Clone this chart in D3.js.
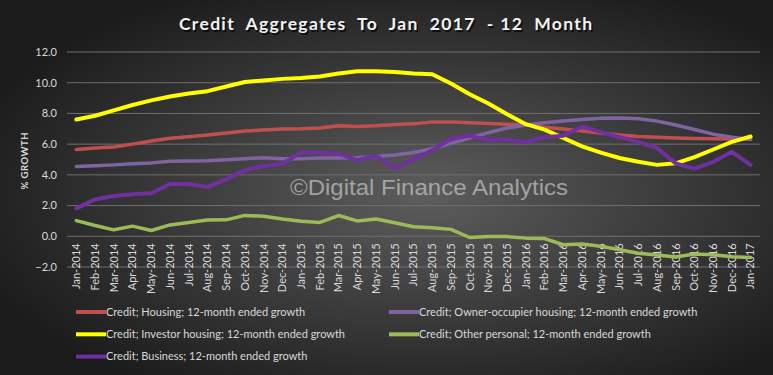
<!DOCTYPE html>
<html>
<head>
<meta charset="utf-8">
<script src="https://cdn.jsdelivr.net/npm/d3@7"></script>
<style>
  body { margin: 0; background: #222; }
  svg { display: block; }
  .tick-label { font-family: Lato, "Open Sans", sans-serif; font-size: 11px; fill: #d9d9d9; }
  .legend-label { font-family: Lato, "Open Sans", sans-serif; font-size: 11px; fill: #d9d9d9; }
</style>
</head>
<body>
<svg id="chart" width="773" height="375"></svg>
<script>
"use strict";

// months on the category axis
var months = [
  "Jan-2014", "Feb-2014", "Mar-2014", "Apr-2014", "May-2014", "Jun-2014",
  "Jul-2014", "Aug-2014", "Sep-2014", "Oct-2014", "Nov-2014", "Dec-2014",
  "Jan-2015", "Feb-2015", "Mar-2015", "Apr-2015", "May-2015", "Jun-2015",
  "Jul-2015", "Aug-2015", "Sep-2015", "Oct-2015", "Nov-2015", "Dec-2015",
  "Jan-2016", "Feb-2016", "Mar-2016", "Apr-2016", "May-2016", "Jun-2016",
  "Jul-2016", "Aug-2016", "Sep-2016", "Oct-2016", "Nov-2016", "Dec-2016",
  "Jan-2017"
];

var yTicks = [-2, 0, 2, 4, 6, 8, 10, 12];

// series values (% growth, 12-month ended)
var housing = [
  5.65, 5.75, 5.82, 6.0, 6.2, 6.38, 6.48, 6.6, 6.72, 6.85, 6.92, 6.98,
  7.0, 7.05, 7.2, 7.15, 7.2, 7.28, 7.32, 7.45, 7.45, 7.4, 7.35, 7.3,
  7.25, 7.1, 6.98, 6.85, 6.72, 6.6, 6.5, 6.45, 6.4, 6.37, 6.35, 6.33, 6.32
];
var ownerOccupier = [
  4.55, 4.6, 4.65, 4.72, 4.78, 4.88, 4.9, 4.92, 4.98, 5.05, 5.12, 5.05,
  5.05, 5.1, 5.1, 5.12, 5.2, 5.3, 5.45, 5.7, 6.05, 6.4, 6.75, 7.05,
  7.25, 7.4, 7.5, 7.6, 7.68, 7.7, 7.65, 7.5, 7.25, 6.95, 6.65, 6.45, 6.3
];
var investor = [
  7.6, 7.85, 8.2, 8.55, 8.85, 9.1, 9.3, 9.45, 9.75, 10.05, 10.15, 10.25,
  10.3, 10.4, 10.6, 10.75, 10.75, 10.7, 10.6, 10.55, 9.95, 9.25, 8.65, 7.95,
  7.3, 6.95, 6.4, 5.85, 5.45, 5.1, 4.85, 4.65, 4.75, 5.15, 5.65, 6.15, 6.5
];
var otherPersonal = [
  1.02, 0.7, 0.42, 0.66, 0.38, 0.74, 0.9, 1.06, 1.07, 1.36, 1.3, 1.12,
  0.98, 0.9, 1.35, 1.0, 1.12, 0.88, 0.62, 0.55, 0.45, -0.08, -0.02, -0.02,
  -0.12, -0.15, -0.55, -0.5, -0.65, -0.88, -1.1, -1.22, -1.35, -1.15, -1.2, -1.33, -1.38
];
var business = [
  1.82, 2.4, 2.62, 2.74, 2.8, 3.4, 3.4, 3.2, 3.72, 4.3, 4.58, 4.72,
  5.45, 5.45, 5.38, 4.95, 5.25, 4.43, 5.0, 5.6, 6.35, 6.55, 6.25, 6.3,
  6.12, 6.45, 6.55, 7.15, 6.8, 6.45, 6.15, 5.75, 4.75, 4.4, 4.85, 5.5, 4.65
];

var seriesNames = [
  "Credit; Housing; 12-month ended growth",
  "Credit; Owner-occupier housing; 12-month ended growth",
  "Credit; Investor housing; 12-month ended growth",
  "Credit; Other personal; 12-month ended growth",
  "Credit; Business; 12-month ended growth"
];
var seriesColors = ["#c0504d", "#8064a2", "#ffff00", "#9bbb59", "#7030a0"];
var seriesWidths = [3.5, 3.5, 4, 3.5, 4];
var seriesValues = [housing, ownerOccupier, investor, otherPersonal, business];

var svg = d3.select("#chart");
var width = 773, height = 375;

// background
var defs = svg.append("defs");
var grad = defs.append("radialGradient")
  .attr("id", "bg")
  .attr("cx", "55%").attr("cy", "52%").attr("r", "62%");
grad.append("stop").attr("offset", "0%").attr("stop-color", "#5d5d5d");
grad.append("stop").attr("offset", "100%").attr("stop-color", "#1b1b1b");

svg.append("rect")
  .attr("width", width).attr("height", height)
  .attr("fill", "url(#bg)");

var x = d3.scalePoint()
  .domain(months)
  .range([67, 760])
  .padding(0.5);

var y = d3.scaleLinear()
  .domain([-2, 12])
  .range([267, 52]);

// gridlines
svg.append("g")
  .selectAll("line")
  .data(yTicks)
  .join("line")
  .attr("x1", 67).attr("x2", 760)
  .attr("y1", function(d) { return y(d); })
  .attr("y2", function(d) { return y(d); })
  .attr("stroke", "#6f6f6f")
  .attr("stroke-width", 1);

// y tick labels
svg.append("g")
  .selectAll("text")
  .data(yTicks)
  .join("text")
  .attr("class", "tick-label")
  .attr("x", 57)
  .attr("y", function(d) { return y(d); })
  .attr("dy", "0.35em")
  .attr("text-anchor", "end")
  .text(function(d) { return d3.format(".1f")(d); });

// x tick labels, rotated, hanging from the 0 line
svg.append("g")
  .selectAll("text")
  .data(months)
  .join("text")
  .attr("class", "tick-label")
  .attr("text-anchor", "end")
  .attr("dy", "0.35em")
  .attr("transform", function(d) {
    return "translate(" + x(d) + "," + (y(0) + 7) + ") rotate(-90)";
  })
  .text(function(d) { return d; });

// axis title
svg.append("text")
  .attr("transform", "translate(28,161) rotate(-90)")
  .attr("text-anchor", "middle")
  .attr("font-family", "Lato, 'Open Sans', sans-serif")
  .attr("font-weight", "bold")
  .attr("font-size", 9.5)
  .attr("fill", "#d9d9d9")
  .attr("textLength", 57)
  .attr("lengthAdjust", "spacing")
  .text("% GROWTH");

// lines
var line = d3.line()
  .x(function(d, i) { return x(months[i]); })
  .y(function(d) { return y(d); });

svg.append("g")
  .selectAll("path")
  .data(seriesValues)
  .join("path")
  .attr("d", function(d) { return line(d); })
  .attr("fill", "none")
  .attr("stroke", function(d, i) { return seriesColors[i]; })
  .attr("stroke-width", function(d, i) { return seriesWidths[i]; })
  .attr("stroke-linejoin", "round")
  .attr("stroke-linecap", "round");

// watermark
svg.append("text")
  .attr("x", 290)
  .attr("y", 195)
  .attr("font-family", "'Liberation Sans', Arial, sans-serif")
  .attr("font-size", 22.5)
  .attr("fill", "#c8c8c8")
  .attr("fill-opacity", 0.7)
  .attr("textLength", 278)
  .attr("lengthAdjust", "spacingAndGlyphs")
  .text("\u00a9Digital Finance Analytics");

// title with a dark shadow
var titleText = "Credit  Aggregates  To  Jan  2017  - 12  Month";
[["#000", 1.5, 1.5, 0.7], ["#f2f2f2", 0, 0, 1]].forEach(function(s) {
  svg.append("text")
    .attr("x", 179 + s[1])
    .attr("y", 30 + s[2])
    .attr("font-family", "Lato, 'Open Sans', sans-serif")
    .attr("font-weight", "bold")
    .attr("font-size", 17.5)
    .attr("fill", s[0])
    .attr("fill-opacity", s[3])
    .attr("textLength", 413)
    .attr("lengthAdjust", "spacing")
    .style("white-space", "pre")
    .text(titleText);
});

// legend, two columns read row by row
var legend = svg.append("g")
  .selectAll("g")
  .data(seriesNames)
  .join("g")
  .attr("transform", function(d, i) {
    var col = i % 2, row = Math.floor(i / 2);
    return "translate(" + (76 + col * 313) + "," + (312 + row * 22.3) + ")";
  });

legend.append("line")
  .attr("x1", 0).attr("x2", 30)
  .attr("y1", 0).attr("y2", 0)
  .attr("stroke", function(d, i) { return seriesColors[i]; })
  .attr("stroke-width", 4);

legend.append("text")
  .attr("class", "legend-label")
  .attr("x", 30)
  .attr("dy", "0.35em")
  .text(function(d) { return d; });
</script>
</body>
</html>
